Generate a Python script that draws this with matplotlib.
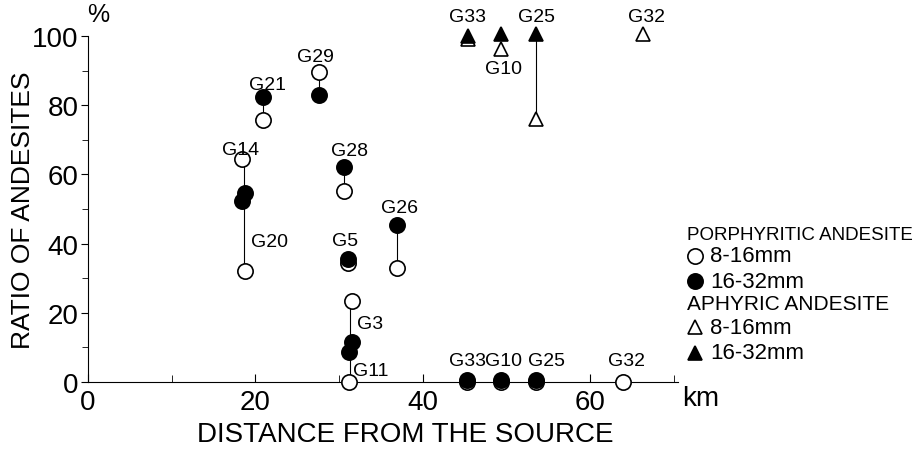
import matplotlib
matplotlib.use("Agg")
import matplotlib.pyplot as plt
from matplotlib.ticker import MultipleLocator

plt.rcParams['font.family'] = ['Liberation Sans', 'DejaVu Sans']

# porphyritic andesite, by site
p_sites = ["G14", "G20", "G21", "G29", "G28", "G5", "G26", "G3", "G11",
           "G33", "G10", "G25", "G32"]
p_dist = [18.4, 18.8, 20.9, 27.6, 30.6, 31.1, 36.9, 31.5, 31.2,
          45.3, 49.3, 53.5, 63.9]
p_fine = [64.5, 32.2, 75.7, 89.6, 55.3, 34.4, 33.0, 23.4, 0.0,
          0.0, 0.0, 0.0, 0.0]          # 8-16 mm
p_coarse = [52.3, 54.6, 82.3, 83.0, 62.0, 35.5, 45.4, 11.6, 8.7,
            0.6, 0.6, 0.6, None]       # 16-32 mm

# aphyric andesite, by site
a_sites = ["G33", "G10", "G25", "G32"]
a_dist = [45.4, 49.3, 53.5, 66.3]
a_fine = [99.0, 96.2, 76.0, 100.5]
a_coarse = [100.0, 100.5, 100.5, None]

# sites joined by one vertical tie line
p_ties = [["G14", "G20"], ["G21"], ["G29"], ["G28"], ["G26"], ["G3", "G11"]]
a_ties = [["G25"]]

fig = plt.figure(figsize=(9.18, 4.56), dpi=100)
ax = fig.add_axes([88 / 918, 73 / 456, 590 / 918, 346 / 456])


def tie_lines(sites, dist, fine, coarse, groups):
    for g in groups:
        idx = [sites.index(s) for s in g]
        vals = [fine[i] for i in idx] + [coarse[i] for i in idx if coarse[i] is not None]
        x = sum(dist[i] for i in idx) / len(idx)
        ax.plot([x, x], [min(vals), max(vals)], color='black', lw=0.8, zorder=1,
                clip_on=False)


tie_lines(p_sites, p_dist, p_fine, p_coarse, p_ties)
tie_lines(a_sites, a_dist, a_fine, a_coarse, a_ties)

mk = dict(ms=11, mew=1.2, mec='black', ls='none', clip_on=False)
ax.plot(p_dist, p_fine, 'o', mfc='white', zorder=3, **mk)
cx = [d for d, v in zip(p_dist, p_coarse) if v is not None]
cy = [v for v in p_coarse if v is not None]
ax.plot(cx, cy, 'o', mfc='black', zorder=4, **mk)

tk = dict(ms=10, mew=1.2, mec='black', ls='none', clip_on=False)
ax.plot(a_dist, a_fine, '^', mfc='white', zorder=3, **tk)
ax.plot(a_dist[:3], a_coarse[:3], '^', mfc='black', zorder=4, **tk)

# site labels
labels = [("G14", 18.2, 67.3), ("G21", 21.5, 86.1), ("G29", 27.2, 94.2),
          ("G28", 31.2, 66.8), ("G26", 37.2, 50.3), ("G20", 21.7, 40.5),
          ("G5", 30.7, 40.8), ("G3", 33.7, 16.8), ("G11", 33.8, 3.2),
          ("G33", 45.4, 6.1), ("G10", 49.7, 6.1), ("G25", 54.8, 6.1),
          ("G32", 64.4, 6.1), ("G33", 45.4, 105.5), ("G25", 53.6, 105.5),
          ("G32", 66.7, 105.5), ("G10", 49.6, 90.5)]
for name, x, y in labels:
    ax.text(x, y, name, fontsize=14, ha='center', va='center')

ax.set_xlim(0, 70.5)
ax.set_ylim(0, 100)
ax.spines['top'].set_visible(False)
ax.spines['right'].set_visible(False)
ax.xaxis.set_major_locator(MultipleLocator(20))
ax.xaxis.set_minor_locator(MultipleLocator(10))
ax.yaxis.set_major_locator(MultipleLocator(20))
ax.yaxis.set_minor_locator(MultipleLocator(10))
ax.tick_params(axis='x', which='both', direction='in', labelsize=20, pad=5)
ax.tick_params(axis='x', which='major', length=6)
ax.tick_params(axis='x', which='minor', length=5)
ax.tick_params(axis='y', which='both', direction='out', labelsize=20, pad=2)
ax.tick_params(axis='y', which='major', length=5)
ax.tick_params(axis='y', which='minor', length=4)

ax.set_xlabel("DISTANCE FROM THE SOURCE", fontsize=20)
ax.xaxis.set_label_coords(0.537, -0.112)
ax.set_ylabel("RATIO OF ANDESITES", fontsize=19)
ax.yaxis.set_label_coords(-0.09, 0.5)
ax.text(1.2, 106.5, "%", fontsize=18, ha='center', va='center', clip_on=False)
ax.text(73.2, -4.5, "km", fontsize=20, ha='center', va='center', clip_on=False)

# legend drawn as text
W, H = 918, 456
fig.text(687 / W, 1 - 236 / H, "PORPHYRITIC ANDESITE", fontsize=13.5, va='center')
fig.text(687 / W, 1 - 305 / H, "APHYRIC ANDESITE", fontsize=15, va='center')
rows = [(257, 'o', 'white', "8-16mm"), (282, 'o', 'black', "16-32mm"),
        (328, '^', 'white', "8-16mm"), (354, '^', 'black', "16-32mm")]
for y, m, fc, txt in rows:
    fig.lines.append(plt.Line2D([695 / W], [1 - y / H], marker=m, ms=11 if m == 'o' else 10,
                                mfc=fc, mec='black', mew=1.2, transform=fig.transFigure))
    fig.text(710 / W, 1 - y / H, txt, fontsize=16, va='center')

fig.savefig("out.png", dpi=100)
